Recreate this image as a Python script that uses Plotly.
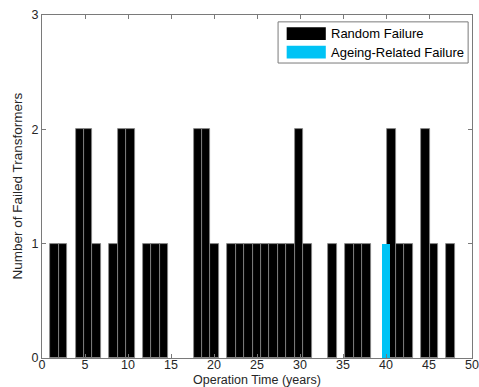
import plotly.graph_objects as go

# ---- data ----
random_years = [1.46, 2.44, 4.40, 5.38, 6.36, 8.32, 9.30, 10.28, 12.24, 13.22, 14.20,
                18.12, 19.10, 20.08, 22.04, 23.02, 24.00, 24.98, 25.96, 26.94, 27.92,
                28.90, 29.88, 30.86, 33.80, 35.76, 36.74, 37.72, 40.66, 41.64, 42.62,
                44.58, 45.56, 47.52]
random_counts = [1, 1, 2, 2, 1, 1, 2, 2, 1, 1, 1,
                 2, 2, 1, 1, 1, 1, 1, 1, 1, 1,
                 1, 2, 1, 1, 1, 1, 1, 2, 1, 1,
                 2, 1, 1]
ageing_years = [40.03]
ageing_counts = [1]
bin_width = 0.98

x_ticks = [0, 5, 10, 15, 20, 25, 30, 35, 40, 45, 50]
y_ticks = [0, 1, 2, 3]

FONT = "Liberation Sans, Arial, sans-serif"
AX = "#7a7a7a"
CYAN = "#00C3F5"

fig = go.Figure()
fig.add_trace(go.Bar(x=random_years, y=random_counts, width=bin_width,
                     name="Random Failure", showlegend=False,
                     marker=dict(color="black", line=dict(color="#8a8a8a", width=0.8))))
fig.add_trace(go.Bar(x=ageing_years, y=ageing_counts, width=bin_width * 0.92,
                     name="Ageing-Related Failure", showlegend=False,
                     marker=dict(color=CYAN, line=dict(color=CYAN, width=0))))

fig.update_layout(
    width=479, height=387,
    margin=dict(l=42, r=7, t=15, b=29),
    paper_bgcolor="white", plot_bgcolor="white",
    barmode="overlay", bargap=0,
    font=dict(family=FONT, size=13, color="#262626"),
    xaxis=dict(range=[0, 50], tickvals=x_ticks, ticktext=[str(v) for v in x_ticks],
               ticks="inside", ticklen=4, tickcolor=AX, showline=True, linecolor=AX,
               linewidth=1, mirror="ticks", showgrid=False, zeroline=False, automargin=False,
               ticklabeloverflow="allow", ticklabelstandoff=-5,
               tickfont=dict(size=12.5)),
    yaxis=dict(range=[0, 3], tickvals=y_ticks, ticktext=[str(v) for v in y_ticks],
               ticks="inside", ticklen=4, tickcolor=AX, showline=True, linecolor=AX,
               linewidth=1, mirror="ticks", showgrid=False, zeroline=False, automargin=False,
               ticklabeloverflow="allow",
               tickfont=dict(size=12.5)),
)

# axis titles
fig.add_annotation(xref="paper", yref="paper", x=0.5, y=0.0, yshift=-21.5,
                   text="Operation Time (years)", showarrow=False,
                   xanchor="center", yanchor="middle",
                   font=dict(size=12.5, color="#262626", family=FONT))
fig.add_annotation(xref="paper", yref="paper", x=0.0, y=0.5, xshift=-25,
                   text="Number of Failed Transformers", showarrow=False, textangle=-90,
                   xanchor="center", yanchor="middle",
                   font=dict(size=13.5, color="#262626", family=FONT))

# manual legend (MATLAB style wide swatches)
fig.add_shape(type="rect", xref="paper", yref="paper", x0=0.549, x1=0.991, y0=0.860, y1=0.980,
              line=dict(color=AX, width=1), fillcolor="white", layer="above")
fig.add_shape(type="rect", xref="paper", yref="paper", x0=0.569, x1=0.660, y0=0.927, y1=0.964,
              line=dict(width=0), fillcolor="black", layer="above")
fig.add_shape(type="rect", xref="paper", yref="paper", x0=0.569, x1=0.660, y0=0.873, y1=0.910,
              line=dict(width=0), fillcolor=CYAN, layer="above")
fig.add_annotation(xref="paper", yref="paper", x=0.667, y=0.945, text="Random Failure",
                   showarrow=False, xanchor="left", yanchor="middle",
                   font=dict(size=13, color="black", family=FONT))
fig.add_annotation(xref="paper", yref="paper", x=0.667, y=0.890, text="Ageing-Related Failure",
                   showarrow=False, xanchor="left", yanchor="middle",
                   font=dict(size=13, color="black", family=FONT))

fig.write_html("out.html")
